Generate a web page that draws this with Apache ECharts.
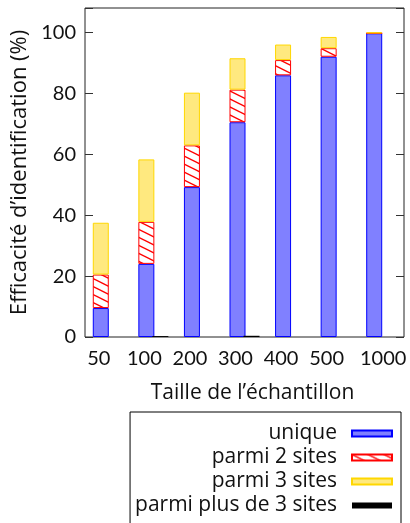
<!DOCTYPE html>
<html>
<head>
<meta charset="utf-8">
<script src="https://cdn.jsdelivr.net/npm/echarts@6/dist/echarts.min.js"></script>
<style>
    html, body { margin: 0; padding: 0; background: #fff; }
    #chart { width: 410px; height: 523px; }
</style>
</head>
<body>
<div id="chart"></div>
<script>
// 数据
const categories = ['50', '100', '200', '300', '400', '500', '1000'];
const unique = [9.5, 24.0, 49.2, 70.5, 85.9, 92.0, 99.7];
const parmi2 = [11.0, 13.8, 13.7, 10.7, 5.0, 2.8, 0];
const parmi3 = [17.0, 20.5, 17.3, 10.3, 5.1, 3.7, 0.3];
const parmiPlus3 = [0, 0.3, 0, 0.4, 0, 0, 0];
const yTicks = [0, 20, 40, 60, 80, 100];

const FONT = 'Lato';
const TITLE_FONT = 'Open Sans';

// 斜线填充
function hatchPattern() {
    let c = document.createElement('canvas');
    c.width = 16;
    c.height = 8;
    let ctx = c.getContext('2d');
    ctx.fillStyle = '#ffffff';
    ctx.fillRect(0, 0, 16, 8);
    ctx.strokeStyle = '#ff0000';
    ctx.lineWidth = 1.4;
    [-8, 0, 8].forEach(dy => {
        ctx.beginPath();
        ctx.moveTo(0, dy);
        ctx.lineTo(16, dy + 8);
        ctx.stroke();
    });
    return c;
}

let chart = echarts.init(document.getElementById('chart'));

let yAxisBase = {
    type: 'value',
    min: 0,
    max: 108,
    interval: 20,
    splitLine: {show: false},
    axisLine: {show: false},
    axisTick: {show: true, inside: true, length: 8, lineStyle: {color: '#333'}}
};

// 类目标签（最后一个略偏右）
let xData = categories.map(c => c === '1000'
    ? {value: c, textStyle: {padding: [0, 0, 0, 4]}}
    : c);

let option = {
    animation: false,
    textStyle: {fontFamily: FONT},
    grid: {
        left: 85,
        right: 6,
        top: 8,
        bottom: 186,
        show: true,
        borderColor: '#222',
        borderWidth: 1
    },
    legend: {
        orient: 'vertical',
        right: 9,
        top: 412,
        height: 140,
        align: 'right',
        icon: 'rect',
        itemWidth: 40,
        itemHeight: 6,
        itemGap: 3,
        padding: [11, 8, 30, 5],
        borderColor: '#000',
        borderWidth: 1,
        textStyle: {fontFamily: TITLE_FONT, fontSize: 21, color: '#111', padding: [0, 10, 0, 0]},
        data: ['unique', 'parmi 2 sites', 'parmi 3 sites', 'parmi plus de 3 sites']
    },
    xAxis: {
        type: 'category',
        data: xData,
        name: 'Taille de l\u2019\u00e9chantillon',
        nameLocation: 'middle',
        nameGap: 46,
        nameTextStyle: {fontFamily: TITLE_FONT, fontSize: 21, color: '#111', padding: [0, 0, 0, 16]},
        axisLine: {show: false},
        axisTick: {show: false},
        axisLabel: {fontFamily: FONT, fontSize: 20, color: '#111', margin: 12, interval: 0, padding: [0, 18, 0, 0]}
    },
    yAxis: [
        Object.assign({}, yAxisBase, {
            position: 'left',
            name: 'Efficacit\u00e9 d\u2019identification (%)',
            nameLocation: 'middle',
            nameGap: 52,
            nameTextStyle: {fontFamily: TITLE_FONT, fontSize: 22, color: '#111'},
            axisLabel: {
                fontFamily: FONT, fontSize: 20, color: '#111', margin: 9,
                formatter: v => yTicks.indexOf(v) >= 0 ? String(v) : ''
            }
        }),
        Object.assign({}, yAxisBase, {
            position: 'right',
            axisLabel: {show: false}
        })
    ],
    series: [
        {
            name: 'unique',
            type: 'bar',
            stack: 'a',
            barWidth: 16,
            barGap: '-12.5%',
            data: unique,
            itemStyle: {color: '#8080ff', borderColor: '#0000ff', borderWidth: 1}
        },
        {
            name: 'parmi 2 sites',
            type: 'bar',
            stack: 'a',
            barWidth: 16,
            data: parmi2,
            itemStyle: {color: {image: hatchPattern(), repeat: 'repeat'}, borderColor: '#ff0000', borderWidth: 1}
        },
        {
            name: 'parmi 3 sites',
            type: 'bar',
            stack: 'a',
            barWidth: 16,
            data: parmi3,
            itemStyle: {color: '#ffe97f', borderColor: '#ffd700', borderWidth: 1}
        },
        {
            name: 'parmi plus de 3 sites',
            type: 'bar',
            stack: 'b',
            barWidth: 16,
            data: parmiPlus3,
            itemStyle: {color: '#000000'}
        }
    ]
};

chart.setOption(option);
</script>
</body>
</html>
